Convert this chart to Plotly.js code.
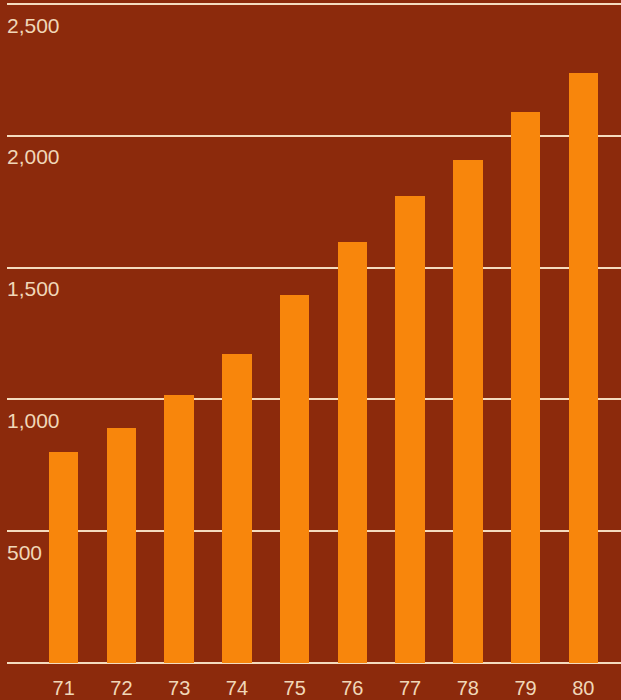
<!DOCTYPE html>
<html>
<head>
<meta charset="utf-8">
<script src="https://cdn.plot.ly/plotly-3.0.1.min.js"></script>
<style>html,body{margin:0;padding:0;background:#8c2a0c;}#chart{width:621px;height:700px;}</style>
</head>
<body>
<div id="chart"></div>
<script>
const years = ['71','72','73','74','75','76','77','78','79','80'];
const values = [800, 891, 1015, 1172, 1397, 1596, 1773, 1908, 2092, 2237];
const yTickValues = [500, 1000, 1500, 2000, 2500];
const yTickLabels = ['500', '1,000', '1,500', '2,000', '2,500'];

const bg = '#8c2a0c';
const barColor = '#f8860c';
const lineColor = '#f4dcbf';
const textColor = '#f0d7b8';
const fontFamily = 'Liberation Sans, Arial, Helvetica, sans-serif';

const trace = {
  type: 'bar',
  x: years,
  y: values,
  width: 0.51,
  marker: {color: barColor, line: {width: 0}},
  hoverinfo: 'skip'
};

const annotations = yTickValues.map((v, i) => ({
  xref: 'paper', yref: 'y',
  x: 0, y: v,
  xanchor: 'left', yanchor: 'middle',
  xshift: -2, yshift: -21,
  text: yTickLabels[i],
  showarrow: false,
  font: {family: fontFamily, size: 21, color: textColor}
}));

const layout = {
  width: 621, height: 700,
  margin: {l: 7, r: 0, t: 0, b: 37, pad: 0},
  paper_bgcolor: bg,
  plot_bgcolor: bg,
  showlegend: false,
  bargap: 0,
  xaxis: {
    type: 'category',
    range: [-0.983, 9.654],
    showgrid: false,
    zeroline: false,
    showline: false,
    ticks: 'outside',
    ticklen: 7,
    tickcolor: 'rgba(0,0,0,0)',
    tickfont: {family: fontFamily, size: 20, color: textColor},
    fixedrange: true
  },
  yaxis: {
    range: [0, 2515.2],
    tickvals: [0].concat(yTickValues),
    showticklabels: false,
    showgrid: true,
    gridcolor: lineColor,
    gridwidth: 2,
    zeroline: true,
    zerolinecolor: lineColor,
    zerolinewidth: 2,
    showline: false,
    ticks: '',
    fixedrange: true
  },
  annotations: annotations
};

Plotly.newPlot('chart', [trace], layout, {displayModeBar: false, staticPlot: true});
</script>
</body>
</html>
